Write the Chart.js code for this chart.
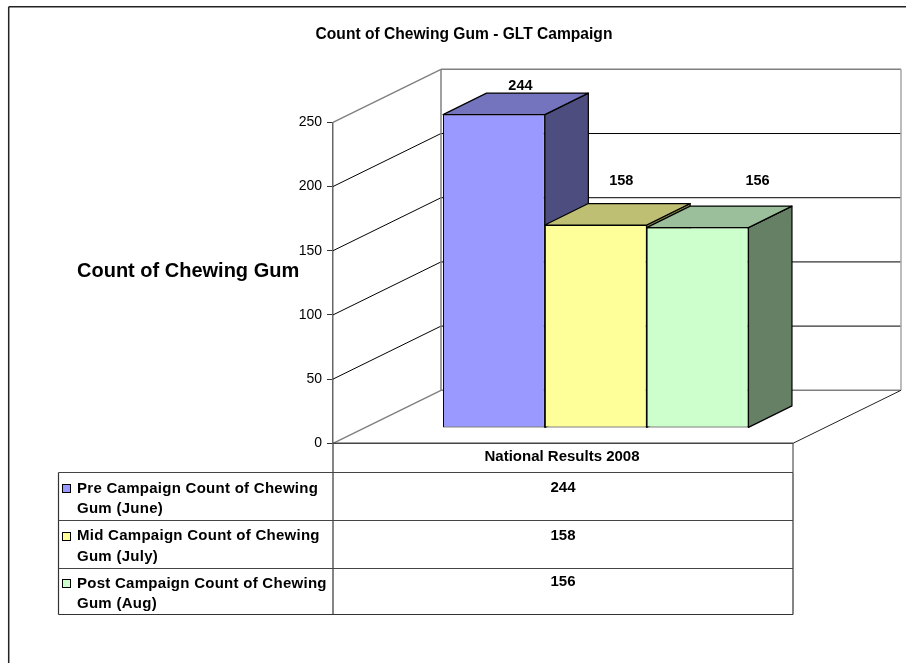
<!DOCTYPE html>
<html>
<head>
<meta charset="utf-8">
<title>Count of Chewing Gum - GLT Campaign</title>
<script src="https://cdn.jsdelivr.net/npm/chart.js@4"></script>
<style>
  html, body { margin: 0; padding: 0; background: #fff; }
  canvas { display: block; }
</style>
</head>
<body>
<canvas id="myChart" width="906" height="663"></canvas>
<script>
var categories = ['National Results 2008'];
var preValues = [244];
var midValues = [158];
var postValues = [156];
var yTicks = [0, 50, 100, 150, 200, 250];
var seriesLines = [
  ['Pre Campaign Count of Chewing', 'Gum (June)'],
  ['Mid Campaign Count of Chewing', 'Gum (July)'],
  ['Post Campaign Count of Chewing', 'Gum (Aug)']
];
var chartTitle = 'Count of Chewing Gum - GLT Campaign';
var yTitle = 'Count of Chewing Gum';

var FONT = '"Liberation Sans", Arial, sans-serif';
var frontColors = ['#9999FF', '#FFFF99', '#CCFFCC'];
var topColors = ['#7474BE', '#BFBF73', '#9ABF9A'];
var sideColors = ['#4D4D80', '#80804D', '#668066'];

// how far the back wall sits behind the front plane
var DEPTH_X = 108, DEPTH_Y = -53;
// bars stand on the floor, this far in from the front edge
var BAR_SHIFT_X = 32.75, BAR_SHIFT_Y = -15.4;
var BAR_DEPTH_X = 43.5, BAR_DEPTH_Y = -21.5;
// Excel put the data labels here, relative to the front of each bar
var labelOffsets = [[26.5, -29], [25.5, -44], [60, -46.5]];

function line(ctx, x1, y1, x2, y2, color, width) {
  ctx.strokeStyle = color;
  ctx.lineWidth = width;
  ctx.beginPath();
  ctx.moveTo(x1, y1);
  ctx.lineTo(x2, y2);
  ctx.stroke();
}

function poly(ctx, pts, fill) {
  ctx.fillStyle = fill;
  ctx.strokeStyle = '#000';
  ctx.lineWidth = 1.2;
  ctx.lineJoin = 'round';
  ctx.beginPath();
  ctx.moveTo(pts[0][0], pts[0][1]);
  for (var i = 1; i < pts.length; i++) ctx.lineTo(pts[i][0], pts[i][1]);
  ctx.closePath();
  ctx.fill();
  ctx.stroke();
}

function drawWalls(chart) {
  var ctx = chart.ctx, y = chart.scales.y, x = chart.scales.x;
  var left = x.left, right = x.right;
  yTicks.forEach(function (t) {
    var py = y.getPixelForValue(t);
    var edge = (t === 0 || t === 250);
    var color = edge ? '#808080' : '#000';
    var w = edge ? 1.5 : 1;
    line(ctx, left, py, left + DEPTH_X, py + DEPTH_Y, color, w);
    line(ctx, left + DEPTH_X, py + DEPTH_Y, right + DEPTH_X, py + DEPTH_Y, color, w);
  });
  var top = y.getPixelForValue(250), bottom = y.getPixelForValue(0);
  line(ctx, left + DEPTH_X, top + DEPTH_Y, left + DEPTH_X, bottom + DEPTH_Y, '#808080', 1.5);
  line(ctx, right + DEPTH_X, top + DEPTH_Y, right + DEPTH_X, bottom + DEPTH_Y, '#A6A6A6', 1.5);
  line(ctx, right, bottom, right + DEPTH_X, bottom + DEPTH_Y, '#222', 1);
}

// tops and sides of the boxes, the fronts are the real Chart.js bars
function drawBoxSides(chart) {
  var ctx = chart.ctx;
  chart.data.datasets.forEach(function (ds, i) {
    var bar = chart.getDatasetMeta(i).data[0];
    var l = bar.x - bar.width / 2 + BAR_SHIFT_X, r = bar.x + bar.width / 2 + BAR_SHIFT_X;
    var t = bar.y + BAR_SHIFT_Y, b = bar.base + BAR_SHIFT_Y;
    poly(ctx, [[r, t], [r + BAR_DEPTH_X, t + BAR_DEPTH_Y], [r + BAR_DEPTH_X, b + BAR_DEPTH_Y], [r, b]], sideColors[i]);
    poly(ctx, [[l, t], [l + BAR_DEPTH_X, t + BAR_DEPTH_Y], [r + BAR_DEPTH_X, t + BAR_DEPTH_Y], [r, t]], topColors[i]);
  });
}

function drawLabels(chart) {
  var ctx = chart.ctx;
  ctx.fillStyle = '#000';
  ctx.font = 'bold 14.5px ' + FONT;
  ctx.textAlign = 'center';
  ctx.textBaseline = 'middle';
  chart.data.datasets.forEach(function (ds, i) {
    var bar = chart.getDatasetMeta(i).data[0];
    ctx.fillText(String(ds.data[0]), bar.x + BAR_SHIFT_X + labelOffsets[i][0], bar.y + BAR_SHIFT_Y + labelOffsets[i][1]);
  });
}

function drawTable(chart) {
  var ctx = chart.ctx, x = chart.scales.x, y = chart.scales.y;
  var left = 58.5, mid = x.left, right = x.right;
  var head = y.getPixelForValue(0);
  var rows = [472.5, 520.5, 568.5, 614.5];
  line(ctx, mid, head, mid, rows[3], '#333', 1.2);
  line(ctx, right, head, right, rows[0], '#555', 1.2);
  line(ctx, left, rows[0], left, rows[3], '#333', 1.2);
  line(ctx, right, rows[0], right, rows[3], '#333', 1.2);
  rows.forEach(function (r, i) {
    line(ctx, left, r, right, r, i === 3 ? '#333' : '#444', 1.2);
  });

  ctx.fillStyle = '#000';
  ctx.font = 'bold 15px ' + FONT;
  ctx.textBaseline = 'middle';
  ctx.textAlign = 'center';
  ctx.fillText(categories[0], (mid + right) / 2 - 1, 457);

  var valueY = [487.5, 535.5, 581.5];
  var keyY = [484.5, 532.5, 579.5];
  var textY = [488.5, 536, 583.5];
  chart.data.datasets.forEach(function (ds, i) {
    ctx.textAlign = 'center';
    ctx.fillStyle = '#000';
    ctx.letterSpacing = '0px';
    ctx.fillText(String(ds.data[0]), (mid + right) / 2, valueY[i]);
    ctx.textAlign = 'left';
    ctx.letterSpacing = '0.27px';
    ctx.fillText(seriesLines[i][0], 77, textY[i]);
    ctx.fillText(seriesLines[i][1], 77, textY[i] + 20.5);
    ctx.fillStyle = frontColors[i];
    ctx.fillRect(62.5, keyY[i], 8, 8);
    ctx.strokeStyle = '#000';
    ctx.lineWidth = 1;
    ctx.strokeRect(62.5, keyY[i], 8, 8);
  });
}

var box3d = {
  id: 'box3d',
  beforeDatasetsDraw: function (chart) {
    var ctx = chart.ctx;
    ctx.save();
    drawWalls(chart);
    drawBoxSides(chart);
    ctx.restore();
    ctx.save();
    ctx.translate(BAR_SHIFT_X, BAR_SHIFT_Y);
  },
  afterDatasetsDraw: function (chart) {
    chart.ctx.restore();
  },
  afterDraw: function (chart) {
    var ctx = chart.ctx;
    ctx.save();
    drawLabels(chart);
    drawTable(chart);
    ctx.letterSpacing = '0px';
    ctx.fillStyle = '#000';
    ctx.font = 'bold 20px ' + FONT;
    ctx.textAlign = 'left';
    ctx.textBaseline = 'middle';
    ctx.fillText(yTitle, 77, 271);
    line(ctx, 8.7, 663, 8.7, 6.7, '#222', 1.5);
    line(ctx, 8.7, 6.7, 906, 6.7, '#222', 1.5);
    var bottom = chart.scales.y.getPixelForValue(0);
    line(ctx, chart.scales.x.left, bottom, chart.scales.x.right, bottom, '#444', 1.5);
    ctx.restore();
  }
};

function makeDataset(values, i) {
  return {
    label: seriesLines[i].join(' '),
    data: values,
    backgroundColor: frontColors[i],
    borderColor: '#000',
    borderWidth: 1,
    borderSkipped: false,
    categoryPercentage: 0.664,
    barPercentage: 1,
    clip: false
  };
}

var ctx = document.getElementById('myChart').getContext('2d');
var chart = new Chart(ctx, {
  type: 'bar',
  data: {
    labels: categories,
    datasets: [makeDataset(preValues, 0), makeDataset(midValues, 1), makeDataset(postValues, 2)]
  },
  plugins: [box3d],
  options: {
    responsive: false,
    animation: false,
    layout: { padding: { left: 135, right: 113, top: 0, bottom: 0 } },
    plugins: {
      legend: { display: false },
      tooltip: { enabled: false },
      title: {
        display: true,
        text: chartTitle,
        color: '#000',
        font: { family: FONT, size: 15.6, weight: 'bold', lineHeight: 1.2 },
        padding: { top: 25, bottom: 78.6 }
      }
    },
    scales: {
      x: {
        grid: { display: false },
        border: { display: false },
        ticks: { display: false },
        afterFit: function (scale) { scale.height = 219.7; }
      },
      y: {
        min: 0,
        max: 250,
        afterFit: function (scale) { scale.width = 198; },
        afterBuildTicks: function (scale) {
          scale.ticks = yTicks.map(function (v) { return { value: v }; });
        },
        border: { display: true, color: '#666', width: 1.5 },
        grid: { drawOnChartArea: false, drawTicks: true, tickLength: 6, color: '#333' },
        ticks: { color: '#000', padding: 5, font: { family: FONT, size: 14 } }
      }
    }
  }
});
</script>
</body>
</html>
